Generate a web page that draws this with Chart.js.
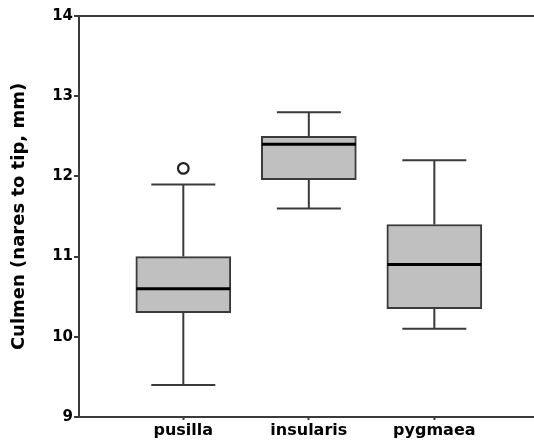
<!DOCTYPE html>
<html>
<head>
<meta charset="utf-8">
<script src="https://cdn.jsdelivr.net/npm/chart.js@4"></script>
<style>
html,body{margin:0;padding:0;background:#fff;}
#wrap{width:534px;height:443px;}
</style>
</head>
<body>
<div id="wrap"><canvas id="c" width="534" height="443"></canvas></div>
<script>
const categories = ['pusilla', 'insularis', 'pygmaea'];
const positions = [1, 2, 3];
const whiskerMin = [9.4, 11.6, 10.1];
const q1 = [10.3, 11.96, 10.35];
const median = [10.6, 12.4, 10.9];
const q3 = [11.0, 12.5, 11.4];
const whiskerMax = [11.9, 12.8, 12.2];
const outliers = [[12.1], [], []];
const yTicks = [9, 10, 11, 12, 13, 14];

const DARK = '#3a3a3a';

const boxData = positions.map((p, i) => ({x: p, y: [q1[i], q3[i]]}));

const boxPlugin = {
  id: 'boxExtras',
  beforeDatasetsDraw(chart) {
    const {ctx, scales: {x, y}} = chart;
    ctx.save();
    ctx.strokeStyle = DARK;
    ctx.lineWidth = 2;
    const capHalf = 32;
    positions.forEach((p, i) => {
      const px = x.getPixelForValue(p);
      ctx.beginPath();
      ctx.moveTo(px, y.getPixelForValue(q3[i]));
      ctx.lineTo(px, y.getPixelForValue(whiskerMax[i]));
      ctx.moveTo(px, y.getPixelForValue(q1[i]));
      ctx.lineTo(px, y.getPixelForValue(whiskerMin[i]));
      ctx.moveTo(px - capHalf, y.getPixelForValue(whiskerMax[i]));
      ctx.lineTo(px + capHalf, y.getPixelForValue(whiskerMax[i]));
      ctx.moveTo(px - capHalf, y.getPixelForValue(whiskerMin[i]));
      ctx.lineTo(px + capHalf, y.getPixelForValue(whiskerMin[i]));
      ctx.stroke();
    });
    ctx.restore();
  },
  afterDatasetsDraw(chart) {
    const {ctx, scales: {x, y}} = chart;
    ctx.save();
    const half = 47;
    positions.forEach((p, i) => {
      const px = x.getPixelForValue(p);
      const py = y.getPixelForValue(median[i]);
      ctx.strokeStyle = '#000';
      ctx.lineWidth = 3;
      ctx.beginPath();
      ctx.moveTo(px - half, py);
      ctx.lineTo(px + half, py);
      ctx.stroke();
      outliers[i].forEach(v => {
        ctx.beginPath();
        ctx.arc(px, y.getPixelForValue(v), 5.3, 0, Math.PI * 2);
        ctx.fillStyle = '#fff';
        ctx.fill();
        ctx.lineWidth = 2.2;
        ctx.strokeStyle = '#222';
        ctx.stroke();
      });
    });
    ctx.restore();
  }
};

new Chart(document.getElementById('c'), {
  type: 'bar',
  data: {
    datasets: [{
      data: boxData,
      backgroundColor: '#c0c0c0',
      borderColor: DARK,
      borderWidth: 2,
      borderSkipped: false,
      barThickness: 95
    }]
  },
  options: {
    responsive: false,
    animation: false,
    devicePixelRatio: 1,
    layout: {padding: {top: 16, right: 0, bottom: 0, left: 0}},
    plugins: {legend: {display: false}, tooltip: {enabled: false}},
    scales: {
      x: {
        type: 'linear',
        min: 0.169,
        max: 3.794,
        offset: false,
        afterBuildTicks(scale) { scale.ticks = positions.map(v => ({value: v})); },
        afterFit(scale) { scale.height = 26; },
        border: {display: true, color: DARK, width: 2},
        grid: {offset: false, drawOnChartArea: false, drawTicks: true, tickLength: 3, tickColor: DARK, tickWidth: 2},
        ticks: {
          color: '#000',
          padding: 1,
          font: {family: 'DejaVu Sans', weight: 'bold', size: 16},
          callback: (v) => categories[positions.indexOf(v)] ?? ''
        }
      },
      y: {
        type: 'linear',
        min: 9,
        max: 14,
        afterBuildTicks(scale) { scale.ticks = yTicks.map(v => ({value: v})); },
        afterFit(scale) { scale.width = 79; },
        border: {display: true, color: DARK, width: 2},
        grid: {
          drawTicks: true,
          tickLength: 5,
          tickColor: DARK,
          tickWidth: 2,
          lineWidth: 2,
          color: (c) => (c.tick && c.tick.value === 14) ? DARK : 'rgba(0,0,0,0)'
        },
        ticks: {
          color: '#000',
          padding: 1,
          font: {family: 'DejaVu Sans', weight: 'bold', size: 15}
        },
        title: {
          display: true,
          text: 'Culmen (nares to tip, mm)',
          color: '#000',
          font: {family: 'DejaVu Sans', weight: 'bold', size: 18},
          padding: {top: 9, bottom: 0}
        }
      }
    }
  },
  plugins: [boxPlugin]
});
</script>
</body>
</html>
